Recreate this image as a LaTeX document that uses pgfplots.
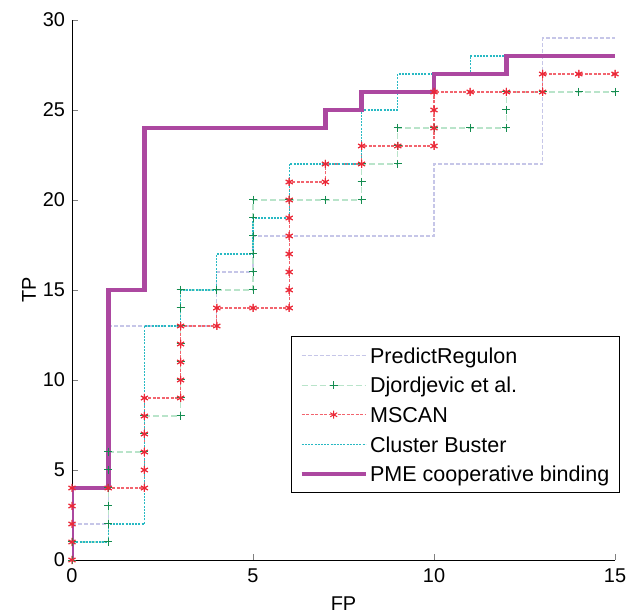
\documentclass[border=0pt]{standalone}
\usepackage{pgfplots}
\pgfplotsset{compat=1.18}
\usepackage{pgfplotstable}
\usepackage{fontspec}
\setmainfont{Liberation Sans}

\definecolor{cPR}{RGB}{198,198,232}
\definecolor{cDJl}{RGB}{185,228,202}
\definecolor{cDJm}{RGB}{20,140,80}
\definecolor{cMSl}{RGB}{242,100,110}
\definecolor{cMSm}{RGB}{235,40,55}
\definecolor{cCB}{RGB}{40,185,195}
\definecolor{cPME}{RGB}{172,72,160}

% FP / TP curves
\pgfplotstableread{
fp tp
0 0
0 2
1 2
1 13
2 13
4 13
4 16
5 16
5 18
10 18
10 22
13 22
13 29
15 29
}\predreg

\pgfplotstableread{
fp tp
0 0
0 1
1 1
1 2
1 3
1 4
1 5
1 6
2 6
2 7
2 8
3 8
3 9
3 10
3 11
3 12
3 13
3 14
3 15
4 15
5 15
5 16
5 17
5 18
5 19
5 20
6 20
7 20
8 20
8 21
8 22
9 22
9 23
9 24
10 24
11 24
12 24
12 25
12 26
13 26
14 26
15 26
}\djord

\pgfplotstableread{
fp tp
0 0
0 1
0 2
0 3
0 4
1 4
2 4
2 5
2 6
2 7
2 8
2 9
3 9
3 10
3 11
3 12
3 13
4 13
4 14
5 14
6 14
6 15
6 16
6 17
6 18
6 19
6 20
6 21
7 21
7 22
8 22
8 23
9 23
10 23
10 24
10 25
10 26
11 26
12 26
13 26
13 27
14 27
15 27
}\mscan

\pgfplotstableread{
fp tp
0 0
0 1
1 1
1 2
2 2
2 13
3 13
3 15
4 15
4 17
5 17
5 19
6 19
6 22
8 22
8 25
9 25
9 27
11 27
11 28
15 28
}\clbuster

\pgfplotstableread{
fp tp
0 0
0 4
1 4
1 15
2 15
2 24
7 24
7 25
8 25
8 26
10 26
10 27
12 27
12 28
15 28
}\pme

\begin{document}
\begin{tikzpicture}
\useasboundingbox (-36bp,-25.5bp) rectangle (277.5bp,280bp);
\begin{axis}[
  scale only axis,
  width=271.5bp, height=270bp,
  xmin=0, xmax=15, ymin=0, ymax=30,
  axis x line=bottom, axis y line=left,
  axis line style={-, line width=0.5bp},
  tick align=inside,
  major tick length=3bp,
  xtick={0,5,10,15}, ytick={0,5,...,30},
  /pgf/number format/assume math mode=true,
  tick label style={font=\fontsize{10}{12}\selectfont},
  xticklabel style={yshift=-1bp},
  every axis x label/.style={at={(axis description cs:0.5,-0.08)}, anchor=center},
  every axis y label/.style={at={(axis description cs:-0.079,0.5)}, anchor=center, rotate=90},
  label style={font=\fontsize{10}{12}\selectfont},
  xlabel={FP}, ylabel={TP},
  legend cell align=left,
  legend image code/.code={\draw[mark repeat=2,mark phase=2,#1] plot coordinates {(0bp,0bp) (16bp,0bp) (32bp,0bp)};},
  legend style={at={(1.009,0.124)}, anchor=south east,
    draw=black, line width=0.5bp,
    font=\fontsize{10.8}{12}\selectfont,
    inner xsep=4bp, inner ysep=4.4bp, row sep=5bp,
    nodes={inner sep=1bp, text height=7.8bp, text depth=0bp}},
]
\addplot[cPR, line width=0.6bp, dash pattern=on 2bp off 1bp] table {\predreg};
\addlegendentry{PredictRegulon}
\addplot[cDJl, line width=0.6bp, dash pattern=on 3bp off 1.5bp,
  mark=+, mark size=2bp, mark options={solid, cDJm, line width=0.5bp}] table {\djord};
\addlegendentry{Djordjevic et al.}
\addplot[cMSl, line width=0.6bp, dash pattern=on 1.5bp off 0.75bp,
  mark=asterisk, mark size=2bp, mark options={solid, cMSm, line width=0.5bp}] table {\mscan};
\addlegendentry{MSCAN}
\addplot[cCB, line width=0.6bp, dash pattern=on 1bp off 0.6bp] table {\clbuster};
\addlegendentry{Cluster Buster}
\addplot[cPME, line width=2.4bp] table {\pme};
\addlegendentry{PME cooperative binding}
% markers again on top of the thick line
\addplot[only marks, mark=+, mark size=2bp, mark options={cDJm, line width=0.5bp}, forget plot] table {\djord};
\addplot[only marks, mark=asterisk, mark size=2bp, mark options={cMSm, line width=0.5bp}, forget plot] table {\mscan};
\end{axis}
\end{tikzpicture}
\end{document}
